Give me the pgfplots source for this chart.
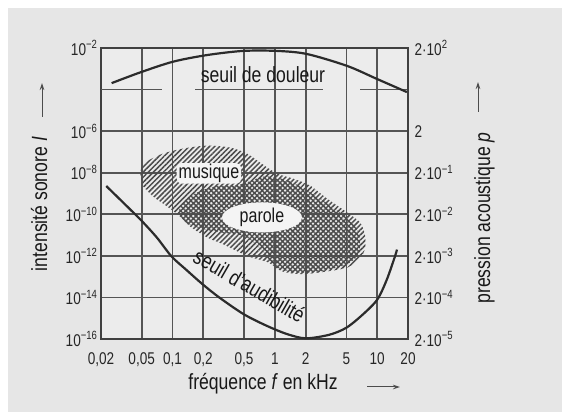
\documentclass[border=0pt]{standalone}
\usepackage{pgfplots}
\pgfplotsset{compat=1.18}
\usepackage{fontspec}
\setmainfont[FakeStretch=0.8]{Liberation Sans}
\usetikzlibrary{patterns.meta,arrows.meta,shapes.geometric}
\definecolor{bgout}{HTML}{E6E6E6}
\definecolor{bgin}{HTML}{ECECEC}
\definecolor{gridc}{HTML}{555555}
\definecolor{curvec}{HTML}{2B2B2B}
\definecolor{hatchc}{HTML}{4C4C4C}
\definecolor{boxc}{HTML}{F4F4F4}
\begin{document}
\begin{tikzpicture}
\fill[white] (0pt,0pt) rectangle (562pt,412pt);
\fill[bgout] (8pt,0pt) rectangle (562pt,404pt);
\begin{axis}[
  at={(101pt,73pt)}, anchor=south west, scale only axis,
  width=307pt, height=291pt,
  xmode=log, ymode=log, xmin=0.02, xmax=20, ymin=1e-16, ymax=1e-2,
  axis background/.style={fill=bgin},
  xtick={0.02,0.05,0.1,0.2,0.5,1,2,5,10,20},
  xticklabels={{0,02},{0,05},{0,1},{0,2},{0,5},1,2,5,10,20},
  ytick={1e-16,1e-14,1e-12,1e-10,1e-8,1e-6,1e-2},
  yticklabels={10\textsuperscript{−16},10\textsuperscript{−14},10\textsuperscript{−12},10\textsuperscript{−10},10\textsuperscript{−8},10\textsuperscript{−6},10\textsuperscript{−2}},
  minor xtick={}, minor ytick={},
  major tick length=0pt,
  xmajorgrids=true, ymajorgrids=true,
  grid style={draw=gridc, line width=1.7pt},
  major grid style={draw=gridc, line width=1.7pt},
  axis line style={draw=black!75, line width=1.9pt},
  tick label style={font=\fontsize{17}{19}\selectfont, text=black!85},
  xticklabel style={yshift=-10pt},
]
% broken 1e-4 grid line
\addplot[draw=gridc, line width=1.7pt] coordinates {(0.02,1e-4) (0.079,1e-4)};
\addplot[draw=gridc, line width=1.7pt] coordinates {(0.166,1e-4) (2.95,1e-4)};
\addplot[draw=gridc, line width=1.7pt] coordinates {(6.8,1e-4) (20,1e-4)};
% music region
\addplot[draw=none, smooth, tension=0.5, pattern={Lines[angle=45,distance=3.6pt,line width=1.5pt]}, pattern color=hatchc] coordinates {
(0.0481,1.02e-8) (0.0515,2.45e-8) (0.0602,4.27e-8) (0.0807,8.32e-8) (0.1266,1.45e-7)
(0.217,2.0e-7) (0.364,1.62e-7) (0.534,8.32e-8) (0.716,3.09e-8) (1.05,9.12e-9)
(1.50,5.25e-9) (2.21,2.40e-9) (3.23,5.75e-10) (5.07,1.23e-10) (6.79,4.07e-11)
(7.60,9.77e-12) (7.60,2.29e-12) (6.79,7.59e-13) (5.18,2.82e-13) (3.31,1.82e-13)
(1.84,1.32e-13) (1.17,1.82e-13) (0.857,4.9e-13) (0.547,9.55e-13) (0.311,3.63e-12)
(0.217,7.76e-12) (0.148,2.63e-11) (0.118,7.94e-11) (0.0883,2.40e-10) (0.0644,7.24e-10)
(0.0515,2.19e-9)} -- cycle;
% speech region
\addplot[draw=none, smooth, tension=0.5, pattern={Lines[angle=-45,distance=3.6pt,line width=1.5pt]}, pattern color=hatchc] coordinates {
(0.1131,1.23e-10) (0.1324,4.68e-10) (0.1734,1.12e-9) (0.260,2.19e-9) (0.456,2.69e-9)
(0.801,6.6e-9) (1.41,3.8e-9) (2.47,7.94e-10) (4.33,1.23e-10) (6.07,2.63e-11)
(6.79,5.62e-12) (6.50,1.07e-12) (4.85,3.55e-13) (2.76,1.82e-13) (1.57,1.62e-13)
(1.00,3.16e-13) (0.748,1.86e-12) (0.511,8.71e-12) (0.291,1.35e-11) (0.186,2.09e-11)
(0.1324,4.07e-11)} -- cycle;
% threshold of pain
\addplot[draw=curvec, line width=2.2pt, smooth] coordinates {
(0.0254,2.04e-4) (0.048,6.61e-4) (0.101,2.19e-3) (0.217,4.57e-3) (0.489,7.24e-3)
(1.05,7.24e-3) (2.06,5.13e-3) (5.07,1.38e-3) (9.95,3.24e-4) (19.5,7.59e-5)};
% threshold of hearing
\addplot[draw=curvec, line width=2.2pt, smooth] coordinates {
(0.0225,2.29e-9) (0.0343,3.02e-10) (0.05,4.8e-11) (0.0703,7.6e-12) (0.0976,9.5e-13)
(0.134,2.29e-13) (0.196,4.37e-14) (0.286,1.0e-14) (0.494,1.58e-15) (0.828,4.37e-16)
(1.31,1.74e-16) (2.0,1.08e-16) (3.4,1.6e-16) (5.0,3.5e-16) (7.2,1.48e-15)
(10,7.8e-15) (12.4,7.1e-14) (14.9,9.3e-13) (15.6,2.0e-12)};
% labels
\node[anchor=base, font=\fontsize{22}{24}\selectfont, text=black!90] at (axis cs:0.766,2.1e-4) {seuil de douleur};
\node[anchor=base, fill=boxc, rounded corners=5pt, inner xsep=2pt, inner ysep=1pt, font=\fontsize{20}{22}\selectfont, text=black!90] at (axis cs:0.227,5.25e-9) {musique};
\node[ellipse, fill=boxc, minimum width=80pt, minimum height=30pt, inner sep=0pt, font=\fontsize{20}{22}\selectfont, text=black!90] at (axis cs:0.748,7.08e-11) {parole};
\node[rotate=-30, font=\fontsize{22}{24}\selectfont, text=black!90] at (axis cs:0.565,3.7e-14) {seuil d’audibilité};
\end{axis}
\begin{axis}[
  at={(101pt,73pt)}, anchor=south west, scale only axis,
  width=307pt, height=291pt,
  xmode=log, ymode=log, xmin=0.02, xmax=20, ymin=1e-16, ymax=1e-2,
  hide x axis, axis y line*=right,
  ytick={1e-16,1e-14,1e-12,1e-10,1e-8,1e-6,1e-2},
  yticklabels={2·10\textsuperscript{−5},2·10\textsuperscript{−4},2·10\textsuperscript{−3},2·10\textsuperscript{−2},2·10\textsuperscript{−1},2,2·10\textsuperscript{2}},
  minor ytick={},
  major tick length=0pt,
  axis line style={draw=black!75, line width=1.9pt},
  tick label style={font=\fontsize{17}{19}\selectfont, text=black!85},
  yticklabel style={xshift=3pt},
]
\end{axis}
\node[anchor=base, font=\fontsize{22}{24}\selectfont, text=black!90] at (263pt,22pt) {fréquence \textit{f} en kHz};
\node[anchor=base, rotate=90, font=\fontsize{22}{24}\selectfont, text=black!90] at (47pt,208pt) {intensité sonore \textit{I}};
\node[anchor=base, rotate=90, font=\fontsize{22}{24}\selectfont, text=black!90] at (490pt,194pt) {pression acoustique \textit{p}};
\draw[black!70, line width=1pt, -{Stealth[length=7pt,width=4.5pt]}] (42pt,295pt) -- (42pt,329pt);
\draw[black!70, line width=1pt, -{Stealth[length=7pt,width=4.5pt]}] (478pt,300pt) -- (478pt,330pt);
\draw[black!70, line width=1pt, -{Stealth[length=7pt,width=4.5pt]}] (367pt,25pt) -- (400pt,25pt);
\end{tikzpicture}
\end{document}
